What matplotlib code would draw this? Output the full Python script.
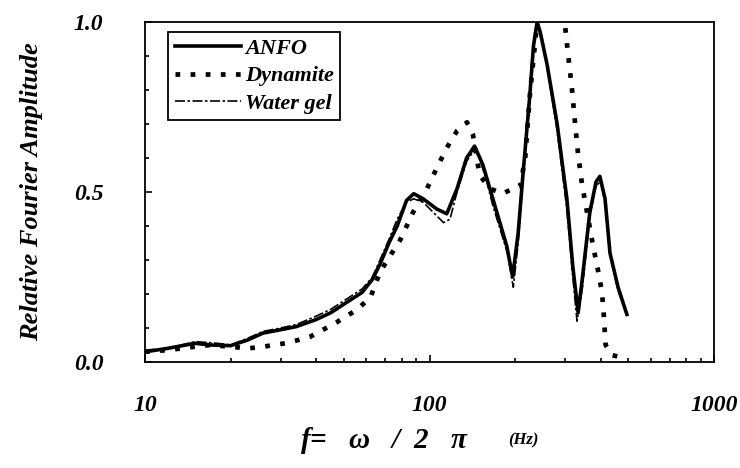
import numpy as np
import matplotlib
matplotlib.use('Agg')
import matplotlib.pyplot as plt
from matplotlib.ticker import MultipleLocator, FixedLocator, NullFormatter

plt.rcParams['font.family'] = ['Liberation Serif', 'DejaVu Serif']
plt.rcParams['font.weight'] = 'bold'
plt.rcParams['font.style'] = 'italic'
plt.rcParams['axes.labelweight'] = 'bold'
plt.rcParams['mathtext.fontset'] = 'custom'
plt.rcParams['mathtext.it'] = 'Liberation Serif:bold:italic'
plt.rcParams['mathtext.rm'] = 'Liberation Serif:bold:italic'

# ANFO (solid)
anfo_f = [10, 12, 15, 17, 20, 23, 26, 30, 34, 40, 45, 50, 58, 63, 67, 72, 77, 83, 88, 95,
          106, 115, 125, 135, 144, 154, 167, 187, 196, 205, 213, 225, 232, 239, 245, 259,
          281, 304, 319, 333, 345, 366, 385, 397, 414, 431, 460, 494]
anfo_v = [0.03, 0.04, 0.055, 0.05, 0.048, 0.065, 0.085, 0.095, 0.104, 0.125, 0.145, 0.17,
          0.205, 0.243, 0.288, 0.35, 0.40, 0.475, 0.495, 0.48, 0.45, 0.436, 0.51, 0.60, 0.635,
          0.58, 0.48, 0.34, 0.25, 0.38, 0.55, 0.78, 0.93, 1.0, 0.97, 0.875, 0.70, 0.48, 0.28,
          0.145, 0.25, 0.44, 0.53, 0.546, 0.48, 0.32, 0.22, 0.14]

# Dynamite (dotted)
dyn_f = [10, 12, 15, 17, 20, 23, 26, 31.6, 38, 47, 55.6, 62, 67, 79, 87.5, 98, 106, 115, 125,
         135.5, 142, 150, 163, 181, 196, 208, 217, 225, 239, 255, 275, 299, 307, 317, 325,
         333, 344, 358, 376, 391, 404, 410, 416, 438, 467]
dyn_v = [0.03, 0.035, 0.045, 0.05, 0.045, 0.04, 0.045, 0.056, 0.074, 0.116, 0.154, 0.19,
         0.265, 0.36, 0.44, 0.51, 0.57, 0.63, 0.68, 0.705, 0.67, 0.55, 0.51, 0.495, 0.51,
         0.515, 0.60, 0.78, 1.0, 1.06, 1.06, 0.995, 0.905, 0.80, 0.70, 0.61, 0.52, 0.44,
         0.34, 0.27, 0.205, 0.135, 0.05, 0.02, 0.015]

# Water gel (dash-dot)
wg_f = [10, 12, 15, 18, 20, 23, 26, 30, 34, 40, 45, 50, 58, 63, 67, 72, 77, 83, 88, 95,
        106, 112, 118, 125, 135, 144, 150, 159, 167, 188, 197, 205, 213, 224, 232, 239,
        248, 260, 281, 304, 319, 330, 345, 366, 385, 400, 414, 431, 460, 494]
wg_v = [0.035, 0.04, 0.06, 0.055, 0.05, 0.07, 0.09, 0.10, 0.11, 0.135, 0.155, 0.18, 0.215,
        0.25, 0.30, 0.36, 0.42, 0.47, 0.48, 0.47, 0.43, 0.41, 0.42, 0.50, 0.59, 0.625, 0.60,
        0.53, 0.46, 0.32, 0.22, 0.35, 0.54, 0.78, 0.93, 0.99, 0.96, 0.86, 0.68, 0.45, 0.25,
        0.12, 0.22, 0.43, 0.52, 0.53, 0.47, 0.32, 0.21, 0.14]

fig = plt.figure(figsize=(7.4, 4.68), dpi=100)
ax = fig.add_axes([145 / 740, 1 - 362 / 468, (714 - 145) / 740, (362 - 22) / 468])

ax.plot(anfo_f, anfo_v, color='black', lw=2.6, label='ANFO')
ax.plot(dyn_f, dyn_v, color='black', lw=3.4, linestyle=(0, (1.0, 2.2)), label='Dynamite')
ax.plot(wg_f, wg_v, color='black', lw=1.2, linestyle=(0, (6, 1.5, 1.5, 1.5)), label='Water gel')

ax.set_xscale('log')
ax.set_xlim(10, 1000)
ax.set_ylim(0, 1.0)

ax.yaxis.set_major_locator(FixedLocator([0.0, 0.5, 1.0]))
ax.yaxis.set_minor_locator(MultipleLocator(0.1))
ax.set_yticklabels(['0.0', '0.5', '1.0'])
ax.xaxis.set_minor_formatter(NullFormatter())
ax.set_xticks([10, 100, 1000])
ax.set_xticklabels(['10', '100', '1000'])

ax.tick_params(which='both', direction='in', width=1.2)
ax.tick_params(which='major', length=5, labelsize=17)
ax.tick_params(which='minor', length=3)
ax.tick_params(axis='y', which='major', pad=30)
ax.tick_params(axis='x', which='major', pad=24)
for sp in ax.spines.values():
    sp.set_linewidth(1.3)

ax.set_ylabel('Relative Fourier Amplitude', fontsize=19, labelpad=22)

# x label drawn as figure text so the "(Hz)" part can sit beside it
fig.text(300 / 740, 1 - 440 / 468, r'$f$=   $\omega$   /  2   $\pi$', fontsize=21,
         ha='left', va='center')
fig.text(508 / 740, 1 - 440 / 468, '(Hz)', fontsize=12, ha='left', va='center')

leg = ax.legend(loc='upper left', bbox_to_anchor=(23 / 569, 1 - 10 / 340), fontsize=16,
                handlelength=3.0, handletextpad=0.15, labelspacing=0.3, borderpad=0.3,
                borderaxespad=0, fancybox=False, edgecolor='black', framealpha=1)
leg.get_frame().set_linewidth(1.3)

fig.savefig('out.png', dpi=100)
